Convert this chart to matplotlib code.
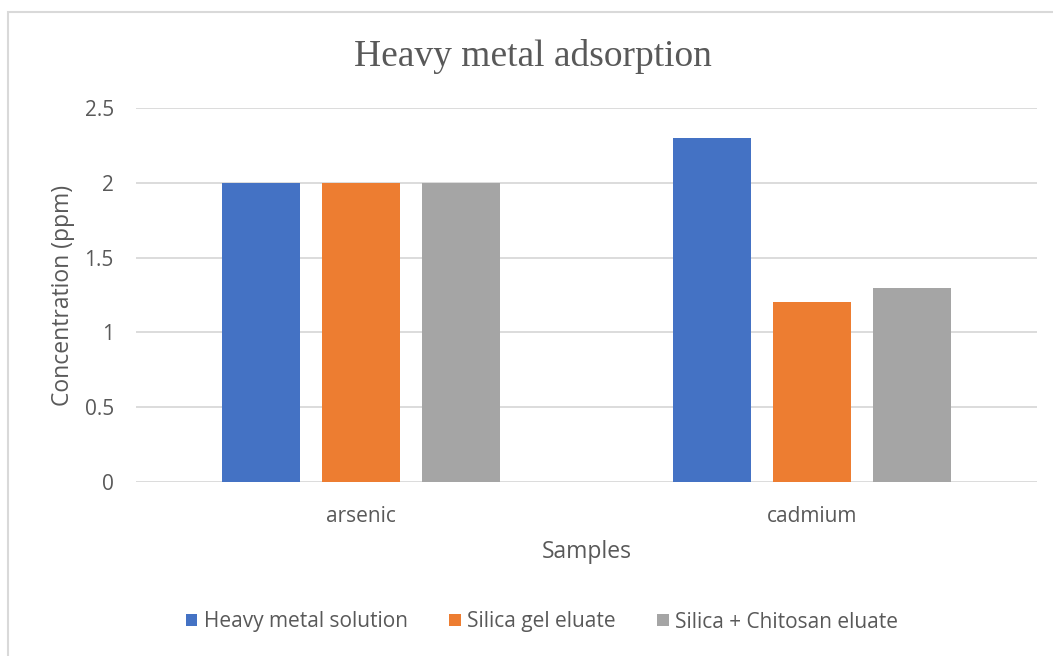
import matplotlib.pyplot as plt
from matplotlib.patches import Rectangle

samples = ["arsenic", "cadmium"]
series = ["Heavy metal solution", "Silica gel eluate", "Silica + Chitosan eluate"]
heavy_metal = [2.0, 2.3]
silica_gel = [2.0, 1.2]
silica_chitosan = [2.0, 1.3]
colors = ["#4472C4", "#ED7D31", "#A5A5A5"]

W, H = 1053, 656
fig = plt.figure(figsize=(W / 100, H / 100), dpi=100)

# chart border like the excel chart area
fig.patches.append(Rectangle((8 / W, -0.1), 1.2, (H - 12) / H + 0.1,
                             transform=fig.transFigure, fill=False,
                             edgecolor="#d9d9d9", linewidth=1.5))

ax = fig.add_axes([136 / W, (H - 482) / H, (1037 - 136) / W, (482 - 108) / H])

width = 0.173
step = 0.222
x = list(range(len(samples)))
for i, (vals, name) in enumerate(zip([heavy_metal, silica_gel, silica_chitosan], series)):
    ax.bar([xi + (i - 1) * step for xi in x], vals, width, color=colors[i], label=name, zorder=3)

ax.set_xlim(-0.5, 1.5)
ax.set_ylim(0, 2.5)
ax.set_yticks([0, 0.5, 1, 1.5, 2, 2.5])
ax.set_yticklabels(["0", "0.5", "1", "1.5", "2", "2.5"])
ax.set_xticks(x)
ax.set_xticklabels(samples)
for s in ax.spines.values():
    s.set_visible(False)
ax.tick_params(length=0, labelsize=15, colors="#595959", pad=16)
ax.tick_params(axis="x", pad=17)
ax.yaxis.grid(True, color="#d9d9d9", linewidth=1.3, zorder=0)
ax.set_axisbelow(True)
for lbl in ax.get_xticklabels() + ax.get_yticklabels():
    lbl.set_fontfamily("Open Sans")

ax.set_ylabel("Concentration (ppm)", fontsize=16.5, color="#595959", family="Open Sans", labelpad=7)
ax.set_xlabel("Samples", fontsize=16.5, color="#595959", family="Open Sans", labelpad=10)

fig.text(533 / W, 1 - 57 / H, "Heavy metal adsorption", ha="center", va="center",
         fontsize=27, color="#595959", family="Liberation Serif")

leg = fig.legend(loc="center", bbox_to_anchor=(542 / W, 1 - 622 / H), ncol=3, frameon=False,
                 handlelength=0.55, handleheight=0.55, handletextpad=0.3, columnspacing=2.0,
                 prop={"family": "Open Sans", "size": 15})
for t in leg.get_texts():
    t.set_color("#595959")

fig.savefig("out.png", dpi=100)
